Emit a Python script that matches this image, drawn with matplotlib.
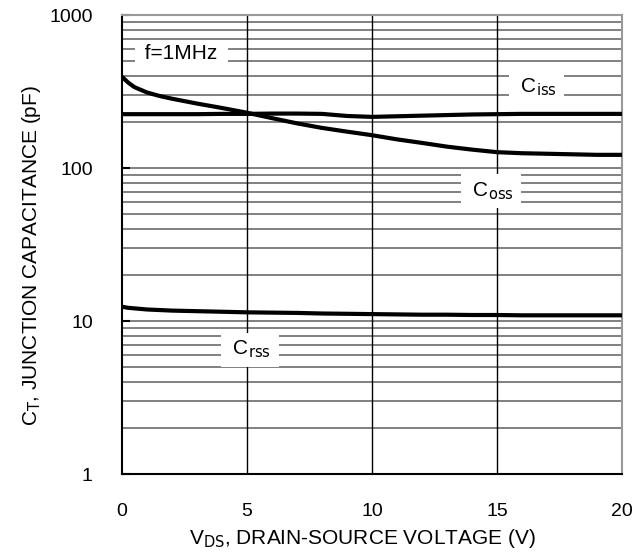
import numpy as np
import matplotlib
matplotlib.use("Agg")
import matplotlib.pyplot as plt
from matplotlib.ticker import FixedLocator, NullFormatter

plt.rcParams['font.family'] = ['Liberation Sans', 'DejaVu Sans']

# Криві ємностей
vds = [0, 0.25, 0.5, 1, 1.5, 2, 3, 4, 5, 6, 7, 8, 9, 10, 11, 12, 13, 14, 15, 16, 17, 18, 19, 20]
ciss = [225, 225, 225, 225, 225, 225, 225, 226, 226, 227, 227, 226, 219, 216, 218, 220, 222, 224, 225, 226, 226, 226, 226, 226]
coss = [395, 362, 338, 312, 296, 284, 264, 247, 230, 212, 196, 183, 173, 164, 154, 146, 138, 132, 127, 125, 124, 123, 122, 122]
crss = [12.4, 12.2, 12.1, 11.9, 11.8, 11.7, 11.6, 11.5, 11.4, 11.35, 11.3, 11.2, 11.15, 11.1, 11.05, 11.0, 11.0, 10.95, 10.95, 10.9, 10.9, 10.9, 10.9, 10.9]

fig = plt.figure(figsize=(6.35, 5.58), dpi=100)
ax = fig.add_axes([0.192, 0.1505, 0.7875, 0.8225])
ax.set_yscale('log')
ax.set_xlim(0, 20)
ax.set_ylim(1, 1000)

# Сітка
minors = [m * 10 ** d for d in range(0, 3) for m in range(2, 10)]
for v in minors + [10, 100]:
    ax.axhline(v, color='#808080', lw=1.4, zorder=1)
for v in [5, 10, 15]:
    ax.axvline(v, color='black', lw=1.0, zorder=1)

for c in [ciss, coss, crss]:
    ax.plot(vds, c, color='black', lw=3, zorder=3, solid_capstyle='butt')

ax.text(2.38, 560, ' f=1MHz ', fontsize=15, ha='center', va='center',
        bbox=dict(facecolor='white', edgecolor='none', pad=3), zorder=4)
ax.text(16.58, 340, r' C$_{\mathrm{iss}}$ ', fontsize=15, ha='center', va='center',
        bbox=dict(facecolor='white', edgecolor='none', pad=4.5), zorder=4)
ax.text(14.76, 71, r' C$_{\mathrm{oss}}$ ', fontsize=15, ha='center', va='center',
        bbox=dict(facecolor='white', edgecolor='none', pad=4.5), zorder=4)
ax.text(5.12, 6.5, r' C$_{\mathrm{rss}}$ ', fontsize=15, ha='center', va='center',
        bbox=dict(facecolor='white', edgecolor='none', pad=4.5), zorder=4)

ax.yaxis.set_major_locator(FixedLocator([1, 10, 100, 1000]))
ax.yaxis.set_minor_formatter(NullFormatter())
ax.set_yticklabels(['1', '10', '100', '1000'])
ax.set_xticks([0, 5, 10, 15, 20])
ax.tick_params(axis='x', length=0, pad=21, labelsize=14)
ax.tick_params(axis='y', which='major', direction='in', length=6, width=1.5, pad=21, labelsize=14)
ax.tick_params(axis='y', which='minor', length=0)

for s in ['left', 'bottom']:
    ax.spines[s].set_color('black')
    ax.spines[s].set_linewidth(1.5)
for s in ['right', 'top']:
    ax.spines[s].set_color('#999999')
    ax.spines[s].set_linewidth(1.5)

ax.set_xlabel(r'V$_{\mathrm{DS}}$, DRAIN-SOURCE VOLTAGE (V)', fontsize=15, labelpad=6)
ax.set_ylabel(r'C$_{\mathrm{T}}$, JUNCTION CAPACITANCE (pF)', fontsize=15, labelpad=6)
ax.xaxis.set_label_coords(0.48, -0.115)
ax.yaxis.set_label_coords(-0.158, 0.477)

fig.savefig('out.png', dpi=100)
